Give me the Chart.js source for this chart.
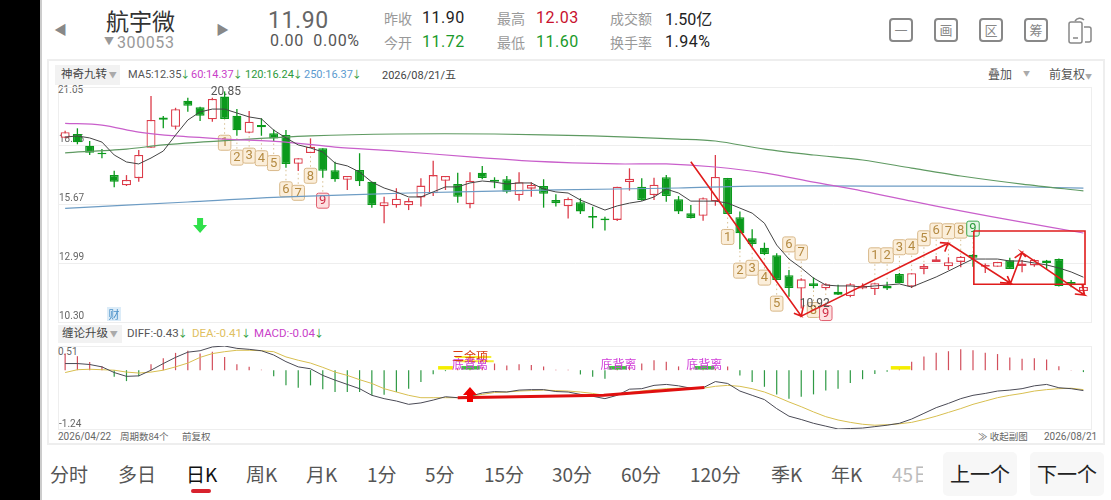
<!DOCTYPE html>
<html>
<head>
<meta charset="utf-8">
<script src="https://cdn.jsdelivr.net/npm/chart.js@4"></script>
<style>
html,body{margin:0;padding:0;background:#000;width:1111px;height:500px;overflow:hidden}
#page{position:absolute;left:40px;top:0;width:1071px;height:500px;background:#fff;border-left:2px solid #ccc;box-sizing:border-box}
.t{position:absolute;white-space:nowrap;font-family:Roboto,"Noto Sans CJK SC",sans-serif;line-height:1}
.c{position:absolute;font-family:"Noto Sans CJK SC",sans-serif;line-height:1;white-space:nowrap}
.pane{position:absolute;border:1px solid #eee;box-sizing:border-box}
canvas{position:absolute}
.ico{position:absolute;top:18px;width:24px;height:24px;border:2px solid #888;border-radius:4px;box-sizing:border-box;font:13px/19px "Noto Sans CJK SC";color:#888;text-align:center}
.g{color:#999}
.a{display:inline-block;width:6px;color:#2a9a3a;text-indent:-1px;font-size:10px}
</style>
</head>
<body>
<div id="page"></div>
<div class="pane" style="left:47px;top:59px;width:1058px;height:386px;border:2px solid #eee"></div>
<div class="pane" style="left:58px;top:87px;width:1034px;height:236px"></div>
<div class="pane" style="left:58px;top:346px;width:1034px;height:84px"></div>

<div class="t" style="left:54px;top:23px;font-size:13px;color:#888">◀</div>
<div class="c" style="left:106px;top:9px;font-size:23px;color:#333">航宇微</div>
<div class="t" style="left:104px;top:37px;font-size:10px;color:#999">▼</div>
<div class="t" style="left:117px;top:35px;font-size:16px;color:#999;letter-spacing:.6px">300053</div>
<div class="t" style="left:216px;top:23px;font-size:13px;color:#888">▶</div>
<div class="t" style="left:268px;top:9px;font-size:23px;color:#666;letter-spacing:.6px">11.90</div>
<div class="t" style="left:270px;top:33px;font-size:16px;color:#555;letter-spacing:.7px">0.00&nbsp;&nbsp;0.00%</div>
<div class="c g" style="left:384px;top:11px;font-size:14px">昨收</div>
<div class="t" style="left:422px;top:10px;font-size:16px;color:#222;letter-spacing:.5px">11.90</div>
<div class="c g" style="left:384px;top:35px;font-size:14px">今开</div>
<div class="t" style="left:422px;top:34px;font-size:16px;color:#1a9a2a;letter-spacing:.5px">11.72</div>
<div class="c g" style="left:497px;top:11px;font-size:14px">最高</div>
<div class="t" style="left:536px;top:10px;font-size:16px;color:#c8102e;letter-spacing:.5px">12.03</div>
<div class="c g" style="left:497px;top:35px;font-size:14px">最低</div>
<div class="t" style="left:536px;top:34px;font-size:16px;color:#1a9a2a;letter-spacing:.5px">11.60</div>
<div class="c g" style="left:610px;top:11px;font-size:14px">成交额</div>
<div class="t" style="left:665px;top:10px;font-size:16px;color:#222">1.50<span style="font-family:'Noto Sans CJK SC'">亿</span></div>
<div class="c g" style="left:610px;top:35px;font-size:14px">换手率</div>
<div class="t" style="left:665px;top:34px;font-size:16px;color:#222;letter-spacing:.5px">1.94%</div>
<div class="ico" style="left:889px">一</div>
<div class="ico" style="left:934px">画</div>
<div class="ico" style="left:979px">区</div>
<div class="ico" style="left:1024px">筹</div>
<svg style="position:absolute;left:1066px;top:15px" width="32" height="30" fill="none" stroke="#888" stroke-width="1.5"><rect x="3" y="7" width="13" height="21" rx="2"/><path d="M7 23h5M9 6c2-3 6-4 9-1M18 12h5a2 2 0 0 1 2 2v11a2 2 0 0 1-2 2h-4"/></svg>

<div class="c" style="left:55px;top:65px;width:65px;height:20px;background:#f2f2f2"></div>
<div class="c" style="left:61px;top:68px;font-size:11.5px;color:#444">神奇九转<span style="color:#aaa;font-size:8px"> ▼</span></div>
<div class="t" style="left:128px;top:69px;font-size:11px;color:#555">MA5:12.35<span class="a">↓</span></div>
<div class="t" style="left:191px;top:69px;font-size:11px;color:#c93fc9">60:14.37<span class="a">↓</span></div>
<div class="t" style="left:245px;top:69px;font-size:11px;color:#2c9a3c">120:16.24<span class="a">↓</span></div>
<div class="t" style="left:304px;top:69px;font-size:11px;color:#5c9bd0">250:16.37<span class="a">↓</span></div>
<div class="t" style="left:382px;top:69px;font-size:11px;color:#444">2026/08/21/<span style="font-family:'Noto Sans CJK SC'">五</span></div>
<div class="c" style="left:988px;top:68px;font-size:12px;color:#555">叠加</div>
<div class="t" style="left:1023px;top:71px;font-size:7px;color:#aaa">▼</div>
<div class="c" style="left:1049px;top:68px;font-size:12px;color:#555">前复权<span style="color:#aaa;font-size:7px">▼</span></div>
<div class="t" style="left:58px;top:85px;font-size:10px;color:#666">21.05</div>
<div class="t" style="left:58px;top:347px;font-size:10px;color:#666">0.51</div>

<div class="c" style="left:58px;top:325px;width:64px;height:18px;background:#f2f2f2"></div>
<div class="c" style="left:62px;top:327px;font-size:11.5px;color:#444">缠论升级<span style="color:#aaa;font-size:8px"> ▼</span></div>
<div class="t" style="left:127px;top:328px;font-size:11.5px;color:#555">DIFF:-0.43<span class="a">↓</span></div>
<div class="t" style="left:192px;top:328px;font-size:11.5px;color:#e0c060">DEA:-0.41<span class="a">↓</span></div>
<div class="t" style="left:254px;top:328px;font-size:11.5px;color:#c93fc9">MACD:-0.04<span class="a">↓</span></div>
<div class="t" style="left:58px;top:432px;font-size:10px;color:#666">2026/04/22</div>
<div class="c" style="left:120px;top:432px;font-size:9.5px;color:#666">周期数84个</div>
<div class="c" style="left:182px;top:432px;font-size:9.5px;color:#666">前复权</div>
<div class="c" style="left:978px;top:432px;font-size:9.5px;color:#666">≫ 收起副图</div>
<div class="t" style="left:1044px;top:432px;font-size:10px;color:#666">2026/08/21</div>

<div class="c" style="left:50px;top:464px;font-size:19px;color:#555">分时</div>
<div class="c" style="left:118px;top:464px;font-size:19px;color:#555">多日</div>
<div class="c" style="left:186px;top:464px;font-size:19px;color:#111">日K</div>
<div style="position:absolute;left:191px;top:489px;width:20px;height:4px;border-radius:2px;background:#d8222e"></div>
<div class="c" style="left:246px;top:464px;font-size:19px;color:#555">周K</div>
<div class="c" style="left:306px;top:464px;font-size:19px;color:#555">月K</div>
<div class="c" style="left:367px;top:464px;font-size:19px;color:#555">1分</div>
<div class="c" style="left:425px;top:464px;font-size:19px;color:#555">5分</div>
<div class="c" style="left:484px;top:464px;font-size:19px;color:#555">15分</div>
<div class="c" style="left:552px;top:464px;font-size:19px;color:#555">30分</div>
<div class="c" style="left:621px;top:464px;font-size:19px;color:#555">60分</div>
<div class="c" style="left:690px;top:464px;font-size:19px;color:#555">120分</div>
<div class="c" style="left:771px;top:464px;font-size:19px;color:#555">季K</div>
<div class="c" style="left:831px;top:464px;font-size:19px;color:#555">年K</div>
<div class="c" style="left:892px;top:464px;font-size:19px;color:#bbb;width:31px;overflow:hidden">45日</div>
<div style="position:absolute;left:943px;top:452px;width:74px;height:44px;border-radius:5px;background:#f7f7f7"></div>
<div style="position:absolute;left:1030px;top:452px;width:74px;height:44px;border-radius:5px;background:#f7f7f7"></div>
<div class="c" style="left:950px;top:464px;font-size:20px;color:#222">上一个</div>
<div class="c" style="left:1037px;top:464px;font-size:20px;color:#222">下一个</div>

<canvas id="kline" width="1065" height="250" style="left:40px;top:80px"></canvas>
<canvas id="macd" width="1065" height="95" style="left:40px;top:340px"></canvas>
<div class="c" style="left:107px;top:307px;width:14px;height:14px;background:#dcecf8;color:#4a90c8;font-size:11px;line-height:14px;text-align:center">财</div>

<script>
// K线 (84根)
const open = [18.73,18.90,18.36,18.04,17.02,16.55,16.88,18.27,19.65,19.23,20.42,20.12,19.57,20.61,19.74,18.96,19.31,18.93,18.85,17.54,18.03,18.25,17.24,16.81,17.25,16.72,15.60,15.64,15.64,16.00,16.19,16.76,16.61,15.69,17.13,16.81,16.83,16.11,16.40,16.52,15.88,15.60,15.78,15.15,15.04,14.97,16.70,16.49,16.11,16.92,15.91,15.27,15.16,15.82,16.89,15.09,14.13,13.70,13.35,12.44,11.83,12.07,11.84,11.68,11.49,11.83,11.81,11.95,12.50,11.92,12.73,13.05,12.85,13.05,13.38,12.83,12.83,13.12,12.86,12.89,13.11,13.18,12.13,11.72];
const close = [18.98,18.52,18.04,17.97,16.72,16.80,17.94,19.54,19.55,20.03,20.19,19.74,20.50,19.59,19.07,19.46,19.21,18.69,17.53,17.79,18.32,17.22,16.83,16.98,16.74,15.65,15.78,15.94,15.83,16.54,17.02,16.98,16.03,16.76,16.89,16.72,16.26,16.69,16.57,16.17,15.73,15.93,15.36,15.07,14.95,16.49,16.85,15.88,16.58,16.06,15.36,15.06,15.96,16.93,15.24,14.36,13.87,13.41,12.22,11.85,12.25,11.95,12.03,11.55,12.03,11.96,12.07,11.83,12.07,12.53,12.86,13.17,13.03,13.29,13.24,12.92,13.05,12.73,12.98,13.14,13.00,11.95,11.98,11.90];
const high = [19.05,19.16,18.58,18.21,17.22,17.02,18.17,20.64,19.72,20.10,20.56,20.15,20.56,20.85,20.04,19.95,19.62,19.11,19.08,17.79,18.70,18.25,17.63,16.98,18.02,16.72,16.03,16.42,15.96,16.88,17.68,16.98,17.13,17.15,17.44,16.92,16.98,17.15,16.69,16.83,16.14,16.00,15.96,15.57,15.12,16.49,17.33,16.88,16.90,17.02,16.06,15.65,16.00,17.94,16.89,15.35,14.54,13.93,13.44,12.68,12.30,12.34,12.07,12.00,12.07,12.07,12.07,12.14,12.54,12.53,12.95,13.32,13.26,13.32,13.41,12.98,13.05,13.24,13.14,13.17,13.14,13.21,12.22,12.03];
const low = [18.70,18.43,17.94,17.79,16.46,16.52,16.72,18.27,19.16,19.11,19.92,19.49,19.46,19.59,18.82,18.93,18.82,18.58,17.36,17.21,18.03,16.90,16.72,16.34,16.52,15.53,14.82,15.53,15.42,15.58,16.06,16.34,15.76,15.50,16.83,16.42,16.19,15.85,16.03,15.53,15.58,15.04,15.24,14.59,14.48,14.92,16.31,15.85,15.88,15.80,15.24,15.03,14.93,15.62,15.24,13.63,13.74,13.36,12.22,11.46,10.92,11.84,11.78,11.53,11.43,11.80,11.53,11.76,12.07,11.85,12.48,13.05,12.68,12.80,12.83,12.54,12.83,12.73,12.58,12.83,12.71,11.92,11.89,11.60];
const priceTicks = [21.05,18.36,15.67,12.99,10.30];

// 均线
const ma5 = [18.76,18.81,18.72,18.53,17.94,17.62,17.53,17.80,18.12,18.85,19.54,19.91,20.04,20.04,19.86,19.68,19.59,19.08,18.72,18.40,18.26,18.08,17.57,17.44,17.16,16.70,16.43,16.25,16.02,16.02,16.25,16.48,16.48,16.66,16.75,16.70,16.61,16.66,16.66,16.38,16.25,16.20,15.88,15.65,15.42,15.61,15.74,15.83,16.02,16.38,16.20,15.83,15.83,15.83,15.74,15.51,15.28,14.82,13.82,13.18,12.77,12.31,11.99,11.95,11.95,11.90,11.95,11.99,12.04,11.90,12.13,12.36,12.63,12.91,13.18,13.18,13.18,13.09,13.09,13.00,12.91,12.77,12.59,12.35];
const ma60At = [0,3,6,9,13,18,22,27,33,38,45,49,53,57,61,65,69,73,78,83];
const ma60 = [19.39,19.31,18.99,18.81,18.67,18.53,18.30,18.12,17.85,17.66,17.53,17.53,17.39,17.12,16.70,16.29,15.83,15.38,14.87,14.37];
const ma120At = [0,5,8,14,20,27,35,43,50,53,57,61,65,69,73,78,83];
const ma120 = [18.04,18.21,18.40,18.63,18.81,18.90,18.90,18.81,18.67,18.58,18.21,17.94,17.71,17.34,16.98,16.61,16.30];
const ma250At = [0,10,18,28,40,50,56,66,76,83];
const ma250 = [15.50,15.79,16.02,16.20,16.34,16.43,16.52,16.52,16.50,16.42];

// 神奇九转 [根, 价位]
const nineA = [[13,18.50],[14,17.82],[15,17.91],[16,17.79],[17,17.57],[18,16.37],[19,16.21],[20,16.99],[21,15.85]];
const nineB = [[54,14.19],[55,12.65],[56,12.78],[57,12.33],[58,11.14],[59,13.85],[60,13.48],[61,10.85],[62,10.71]];
const nineC = [[66,13.35],[67,13.35],[68,13.72],[69,13.75],[70,14.13],[71,14.48],[72,14.45],[73,14.48],[74,14.57]];

// 手绘红线
const drawn = [
  [[51,17.63],[60,10.57],[59.4,10.70],[60,10.57],[60.2,11.08],[60,10.57],[71.97,13.90],[71.3,13.93],[71.97,13.90],[71.7,13.52],[71.97,13.90],[77.06,12.07],[76.2,12.10],[77.06,12.07],[76.8,12.40],[77.06,12.07],[78,13.47],[77.4,13.23],[78,13.47],[78.3,13.27],[78,13.47],[83.1,11.53],[82.3,11.58],[83.1,11.53],[82.9,11.99]],
  [[74.07,14.46],[83.13,14.46],[83.13,12.03],[74.07,12.03],[74.07,14.46]]
];

// MACD
const macdBar = [.35,.295,.175,.085,-.14,-.23,-.13,.125,.25,.365,.41,.35,.39,.28,.125,.07,.01,-.13,-.32,-.37,-.32,-.40,-.46,-.46,-.46,-.53,-.52,-.46,-.39,-.25,-.085,-.02,.03,.04,.07,.14,.10,.125,.11,.08,.01,.01,-.09,-.14,-.18,.03,.10,.14,.21,.18,.08,.02,.02,.03,.08,-.11,-.25,-.35,-.51,-.60,-.56,-.51,-.43,-.39,-.27,-.19,-.08,-.035,.02,.18,.29,.37,.40,.44,.42,.37,.34,.27,.24,.25,.225,.085,.005,-.04];
const diff = [.14,.14,.12,.07,-.05,-.13,-.12,0,.14,.27,.38,.41,.49,.51,.46,.44,.41,.32,.18,.07,.03,-.11,-.21,-.30,-.39,-.53,-.60,-.65,-.72,-.69,-.63,-.56,-.58,-.55,-.48,-.45,-.46,-.42,-.41,-.41,-.45,-.46,-.51,-.55,-.60,-.53,-.40,-.39,-.32,-.30,-.33,-.38,-.37,-.24,-.28,-.44,-.53,-.62,-.81,-.97,-1.04,-1.12,-1.18,-1.24,-1.23,-1.22,-1.19,-1.16,-1.12,-1.03,-.91,-.79,-.70,-.60,-.53,-.49,-.44,-.42,-.39,-.33,-.30,-.37,-.39,-.43];
const dea = [-.05,.01,.02,.01,0,-.04,-.06,-.04,0,.07,.15,.27,.35,.39,.42,.42,.41,.39,.28,.21,.15,.06,-.04,-.11,-.20,-.28,-.39,-.46,-.53,-.58,-.58,-.58,-.58,-.55,-.51,-.47,-.46,-.44,-.43,-.42,-.43,-.44,-.46,-.49,-.53,-.51,-.47,-.44,-.41,-.39,-.38,-.38,-.38,-.34,-.32,-.34,-.39,-.46,-.56,-.67,-.77,-.88,-.98,-1.05,-1.10,-1.14,-1.16,-1.15,-1.13,-1.10,-1.04,-.97,-.89,-.81,-.72,-.65,-.58,-.53,-.49,-.44,-.41,-.39,-.38,-.41];
const macdTicks = [0.51,-1.24];
const yellowMarks = [[[30.4,.05],[31.6,.05]],[[67.3,.05],[68.9,.05]]];
const greenMarks = [[[32.3,.05],[33.8,.05]],[[44.3,.05],[45.8,.05]],[[51.3,.05],[52.9,.05]]];
const divergeLine = [[32,-.583],[43.9,-.527],[52.1,-.366]];
const signalText = [[33,.13,'底背离'],[45.1,.13,'底背离'],[52.1,.13,'底背离']];

const RED = '#dc3c4a', GREEN = '#0b9a1c';
const FONT = 'Roboto,"Noto Sans CJK SC",sans-serif';
const idx = open.map((_, i) => i);
const pts = (at, vals) => vals.map((v, k) => ({x: at[k], y: v}));
const xy = arr => arr.map(p => ({x: p[0], y: p[1]}));
const line = (data, color, width, extra) => Object.assign({type: 'line', data, borderColor: color, borderWidth: width, pointRadius: 0, order: 1}, extra);

function baseOptions(min, max, ticks, labelOffset, skipTop, pad) {
  return {
    responsive: false, animation: false, events: [],
    layout: {padding: pad},
    plugins: {legend: {display: false}, tooltip: {enabled: false}},
    scales: {
      x: {type: 'linear', min: -0.5, max: 83.7, offset: false, display: false, grid: {offset: false}},
      y: {
        min, max,
        afterBuildTicks: s => { s.ticks = ticks.map(v => ({value: v})); },
        afterFit: s => { s.paddingTop = 0; s.paddingBottom = 0; },
        border: {display: false},
        grid: {color: '#eeeeee', drawTicks: false, lineWidth: 1},
        ticks: {
          mirror: true, padding: 0, labelOffset, color: '#666', font: {size: 10, family: FONT},
          callback: v => v === skipTop ? '' : v.toFixed(2)
        }
      }
    }
  };
}

function box(ctx, x, y, w, h, fill, stroke) {
  ctx.beginPath();
  ctx.roundRect(x - w / 2, y - h / 2, w, h, 2);
  ctx.fillStyle = fill; ctx.fill();
  ctx.lineWidth = 1; ctx.strokeStyle = stroke; ctx.stroke();
}

function blockArrow(ctx, x, y, dir, color) {
  // dir 1 向下, -1 向上
  ctx.fillStyle = color;
  ctx.beginPath();
  ctx.moveTo(x - 3, y - 8 * dir);
  ctx.lineTo(x + 3, y - 8 * dir);
  ctx.lineTo(x + 3, y - 1 * dir);
  ctx.lineTo(x + 7, y - 1 * dir);
  ctx.lineTo(x, y + 7 * dir);
  ctx.lineTo(x - 7, y - 1 * dir);
  ctx.lineTo(x - 3, y - 1 * dir);
  ctx.closePath();
  ctx.fill();
}

const nineStyle = {
  normal: ['#fbeeda', '#d9b98a', '#b48a42'],
  red: ['#fde0e0', '#e06070', '#cf2f47'],
  green: ['#e4f5e6', '#3aa84e', '#2a9a3a']
};

const klinePlugin = {
  id: 'klineMarks',
  beforeDatasetsDraw(chart) {
    const ctx = chart.ctx, xs = chart.scales.x, ys = chart.scales.y;
    const seqs = [[nineA, 'red'], [nineB, 'red'], [nineC, 'green']];
    ctx.save();
    seqs.forEach(([seq, last]) => seq.forEach(([i, p], k) => {
      const x = xs.getPixelForValue(i), y = ys.getPixelForValue(p);
      const s = nineStyle[k === 8 ? last : 'normal'];
      const above = p > high[i];
      ctx.beginPath();
      ctx.setLineDash([1.5, 3]);
      ctx.lineWidth = 1;
      ctx.strokeStyle = '#d8bf90';
      ctx.moveTo(x, y);
      ctx.lineTo(x, ys.getPixelForValue(above ? high[i] : low[i]));
      ctx.stroke();
      ctx.setLineDash([]);
      box(ctx, x, y, 12.5, 15, s[0], s[1]);
      ctx.fillStyle = s[2];
      ctx.font = '13px ' + FONT;
      ctx.textAlign = 'center';
      ctx.textBaseline = 'middle';
      ctx.fillText(String(k + 1), x, y + 0.5);
    }));
    ctx.restore();
  },
  afterDatasetsDraw(chart) {
    const ctx = chart.ctx, xs = chart.scales.x, ys = chart.scales.y;
    ctx.save();
    ctx.font = '12px ' + FONT;
    ctx.fillStyle = '#555';
    ctx.textAlign = 'center';
    ctx.textBaseline = 'middle';
    ctx.fillText('20.85', xs.getPixelForValue(13.1), ys.getPixelForValue(20.80));
    ctx.fillText('10.92', xs.getPixelForValue(61.1), ys.getPixelForValue(11.12));
    blockArrow(ctx, xs.getPixelForValue(11), ys.getPixelForValue(14.69), 1, '#2fe04a');
    ctx.restore();
  }
};

const macdPlugin = {
  id: 'macdMarks',
  afterDatasetsDraw(chart) {
    const ctx = chart.ctx, xs = chart.scales.x, ys = chart.scales.y;
    ctx.save();
    ctx.textAlign = 'center';
    ctx.textBaseline = 'middle';
    ctx.font = '12px "Noto Sans CJK SC"';
    ctx.fillStyle = '#f5ee30';
    ctx.fillRect(xs.getPixelForValue(31.8), ys.getPixelForValue(.30), 36, 2);
    ctx.fillRect(xs.getPixelForValue(32), ys.getPixelForValue(.21), 36, 2);
    ctx.fillStyle = '#d83a10';
    ctx.fillText('三金项', xs.getPixelForValue(33), ys.getPixelForValue(.28));
    ctx.fillStyle = '#d03cd8';
    signalText.forEach(([i, v, text]) => ctx.fillText(text, xs.getPixelForValue(i), ys.getPixelForValue(v)));
    blockArrow(ctx, xs.getPixelForValue(33), ys.getPixelForValue(-.5), -1, '#f00000');
    ctx.restore();
  }
};

new Chart(document.getElementById('kline'), {
  data: {
    datasets: [
      ...drawn.map(d => line(xy(d), '#e01c1c', 1.6, {order: 0})),
      line(ma5.map((v, i) => ({x: i, y: v})), '#444444', 1),
      line(pts(ma60At, ma60), '#c95fcb', 1.2, {tension: .3}),
      line(pts(ma120At, ma120), '#5f9a62', 1.2, {tension: .3}),
      line(pts(ma250At, ma250), '#6d9cc4', 1.2, {tension: .3}),
      {
        type: 'bar', grouped: false, order: 2, barThickness: 9, borderWidth: 1.3, borderSkipped: false, inflateAmount: 0,
        data: idx.map(i => ({x: i, y: [open[i], close[i]]})),
        backgroundColor: idx.map(i => close[i] >= open[i] ? '#ffffff' : GREEN),
        borderColor: idx.map(i => close[i] >= open[i] ? RED : GREEN)
      },
      {
        type: 'bar', grouped: false, order: 3, barThickness: 1.3, borderWidth: 0, inflateAmount: 0,
        data: idx.map(i => ({x: i, y: [low[i], high[i]]})),
        backgroundColor: idx.map(i => close[i] >= open[i] ? RED : GREEN)
      }
    ]
  },
  options: baseOptions(10.30, 21.05, priceTicks, -6, 21.05, {left: 19, right: 13, top: 7, bottom: 8}),
  plugins: [klinePlugin]
});

new Chart(document.getElementById('macd'), {
  data: {
    datasets: [
      ...yellowMarks.map(d => line(xy(d), '#f5ee00', 3.5, {order: 0})),
      ...greenMarks.map(d => line(xy(d), '#39c43c', 3.5, {order: 0})),
      line(xy(divergeLine), '#e01010', 3, {order: 0}),
      line(diff.map((v, i) => ({x: i, y: v})), '#4a4a55', 1),
      line(dea.map((v, i) => ({x: i, y: v})), '#d8bf50', 1),
      {
        type: 'bar', grouped: false, order: 2, barThickness: 1.2, borderWidth: 0, inflateAmount: 0,
        data: macdBar.map((v, i) => ({x: i, y: [0, v]})),
        backgroundColor: macdBar.map(v => v >= 0 ? '#d24f5c' : '#2f9a45')
      }
    ]
  },
  options: baseOptions(-1.24, 0.51, macdTicks, -5, 0.51, {left: 19, right: 13, top: 6, bottom: 6}),
  plugins: [macdPlugin]
});
</script>
</body>
</html>
